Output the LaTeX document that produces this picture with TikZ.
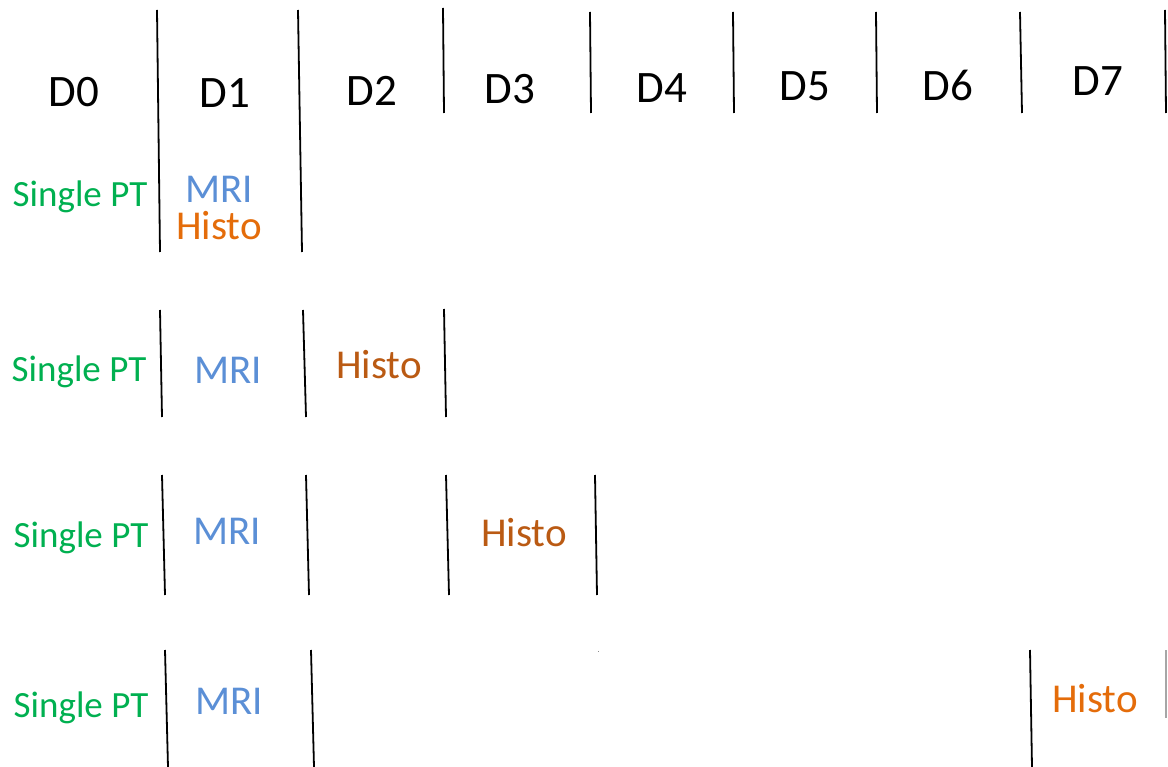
\documentclass[tikz,border=0pt]{standalone}
\usepackage{fontspec}
\setmainfont{Carlito}
\definecolor{ptgreen}{HTML}{00B050}
\definecolor{mriblue}{HTML}{5B8FD6}
\definecolor{histoorange}{HTML}{E46C0A}
\definecolor{histobrown}{HTML}{BA5A13}
\tikzset{
  day/.style={anchor=base, inner sep=0pt, font=\fontsize{45}{54}\selectfont},
  pt/.style={anchor=base, inner sep=0pt, text=ptgreen, font=\fontsize{37}{44}\selectfont},
  mri/.style={anchor=base, inner sep=0pt, text=mriblue, font=\fontsize{41}{49}\selectfont},
  histo/.style={anchor=base, inner sep=0pt, font=\fontsize{41}{49}\selectfont},
  divider/.style={draw=black, line width=1.8pt},
}
\begin{document}
\begin{tikzpicture}[x=1pt, y=-1pt]
\useasboundingbox (0,0) rectangle (1168,767);

% day header
\node[day] (d0) at (74,107) {D0};
\node[day] (d1) at (225,108) {D1};
\node[day] (d2) at (372,106) {D2};
\node[day] (d3) at (510,104) {D3};
\node[day] (d4) at (662,103) {D4};
\node[day] (d5) at (805,101) {D5};
\node[day] (d6) at (948,101) {D6};
\node[day] (d7) at (1098,96) {D7};

% header dividers (the first two run down through the first protocol)
\draw[divider] (157,10) -- (160,252);
\draw[divider] (298,10) -- (302,252);
\draw[divider] (443,8) -- (444,113);
\draw[divider] (590,12) -- (591,113);
\draw[divider] (733,12) -- (734,113);
\draw[divider] (876,12) -- (877,113);
\draw[divider] (1020,12) -- (1022,113);
\draw[divider] (1165,10) -- (1166,113);

% protocol 1: MRI and histology on D1
\node[pt] (pa) at (80,207) {Single PT};
\node[mri] (ma) at (219,203) {MRI};
\node[histo, text=histoorange] (ha) at (219,240) {Histo};

% protocol 2: histology on D2
\draw[divider] (160,310) -- (162,417);
\draw[divider] (303,310) -- (306,417);
\draw[divider] (444,309) -- (446,417);
\node[pt] (pb) at (79,382) {Single PT};
\node[mri] (mb) at (228,384) {MRI};
\node[histo, text=histobrown] (hb) at (379,379) {Histo};

% protocol 3: histology on D3
\draw[divider] (162,475) -- (165,595);
\draw[divider] (306,475) -- (309,595);
\draw[divider] (446,475) -- (449,595);
\draw[divider] (595,475) -- (597,595);
\node[pt] (pc) at (81,547) {Single PT};
\node[mri] (mc) at (227,544) {MRI};
\node[histo, text=histobrown] (hc) at (524,546) {Histo};

% protocol 4: histology on D7
\draw[divider] (165,650) -- (168,767);
\draw[divider] (311,650) -- (314,767);
\draw[divider] (1030,650) -- (1032,767);
\draw[line width=1.4pt, draw=black!35] (1166,650) -- (1166,718);
\fill[black!45] (597.5,650.5) rectangle (599,652);
\node[pt] (pd) at (81,717) {Single PT};
\node[mri] (md) at (229,714) {MRI};
\node[histo, text=histoorange] (hd) at (1095,712) {Histo};
\end{tikzpicture}
\end{document}
